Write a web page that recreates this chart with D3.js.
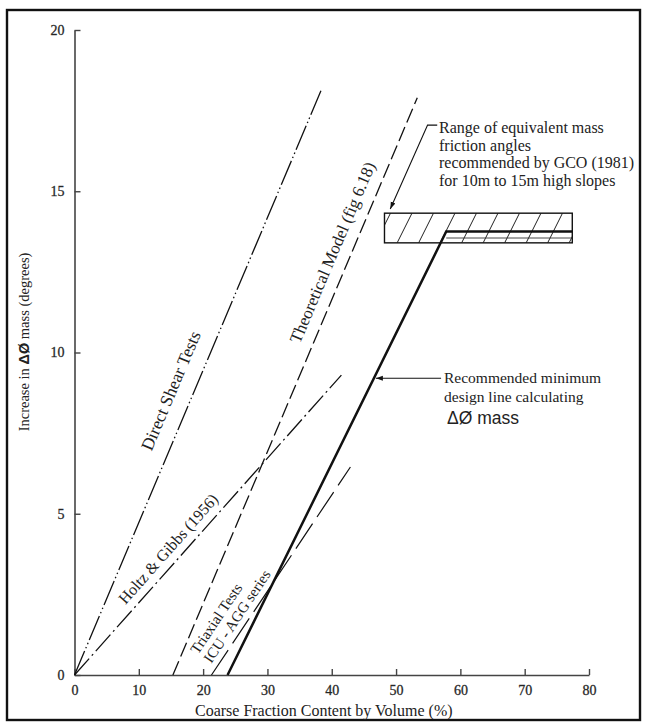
<!DOCTYPE html>
<html><head><meta charset="utf-8">
<script src="https://cdn.jsdelivr.net/npm/d3@7"></script>
<style>
html,body{margin:0;padding:0;background:#fff;}
svg{display:block;}
text{font-family:"Liberation Serif","Times New Roman",serif;fill:#222;}
</style></head>
<body>
<svg id="chart" width="647" height="727"></svg>
<script>
// ---- data ----
const xTickValues = [0, 10, 20, 30, 40, 50, 60, 70, 80];
const yTickValues = [0, 5, 10, 15, 20];
const directShear = [[0, 0], [38.5, 18.2]];
const theoreticalModel = [[15.3, 0], [53.3, 17.9]];
const holtzGibbs = [[0, 0], [41.5, 9.3]];
const triaxialICU = [[21.3, 0], [42.9, 6.45]];
const recommendedLine = [[23.8, 0], [57.8, 13.75], [77.4, 13.75]];
const gcoRangeX = [48.2, 77.4];
const gcoRangeY = [13.4, 14.32];
const xTitle = "Coarse Fraction Content by Volume (%)";
const yTitleParts = ["Increase in ", "ΔØ", " mass (degrees)"];
const gcoNote = ["Range of equivalent mass", "friction angles", "recommended by GCO (1981)", "for 10m to 15m high slopes"];
const recNote = ["Recommended minimum", "design line calculating", "ΔØ mass"];
const gcoArrow = [[56.4, 17.05], [54.9, 17.05], [49.1, 14.45]];
const recArrowY = 9.2, recArrowFromX = 57.0;

// ---- layout ----
const svg = d3.select("#chart");
const x = d3.scaleLinear().domain([0, 80]).range([74.5, 589]);
const y = d3.scaleLinear().domain([0, 20]).range([675, 30]);

svg.append("rect").attr("x", 7).attr("y", 10).attr("width", 633).attr("height", 710)
  .attr("fill", "none").attr("stroke", "#111").attr("stroke-width", 2.4);

svg.append("defs").append("marker").attr("id", "arr").attr("viewBox", "0 0 10 10")
  .attr("refX", 10).attr("refY", 5).attr("markerWidth", 7).attr("markerHeight", 7)
  .attr("orient", "auto").attr("markerUnits", "userSpaceOnUse")
  .append("path").attr("d", "M0,1.5 L10,5 L0,8.5 Z").attr("fill", "#111");

const xAxis = svg.append("g").attr("transform", `translate(0,${y(0)})`)
  .call(d3.axisBottom(x).tickValues(xTickValues).tickSizeInner(-6).tickSizeOuter(0).tickPadding(10));
const yAxis = svg.append("g").attr("transform", `translate(${x(0)},0)`)
  .call(d3.axisLeft(y).tickValues(yTickValues).tickSizeInner(-6).tickSizeOuter(0).tickPadding(10));
[xAxis, yAxis].forEach(a => {
  a.select(".domain").attr("stroke", "#444").attr("stroke-width", 1.6);
  a.selectAll(".tick line").attr("stroke", "#444").attr("stroke-width", 1.4);
  a.selectAll(".tick text").attr("font-family", "Liberation Serif").attr("font-size", 14)
    .attr("fill", "#333").attr("stroke", "#333").attr("stroke-width", 0.3);
});

// titles
svg.append("text").attr("x", (x(0) + x(80)) / 2 - 8).attr("y", 716).attr("text-anchor", "middle")
  .attr("font-size", 16).text(xTitle);
const yt = svg.append("text").attr("transform", `translate(29,342) rotate(-90)`)
  .attr("text-anchor", "middle").attr("font-size", 14.5);
yTitleParts.forEach((p, i) => {
  const ts = yt.append("tspan").text(p);
  if (i === 1) ts.attr("font-family", "Liberation Sans").attr("font-weight", "bold");
});

// hatched GCO box
const bx0 = x(gcoRangeX[0]), bx1 = x(gcoRangeX[1]), by0 = y(gcoRangeY[1]), by1 = y(gcoRangeY[0]);
svg.append("clipPath").attr("id", "boxclip").append("rect")
  .attr("x", bx0).attr("y", by0).attr("width", bx1 - bx0).attr("height", by1 - by0);
const hatchG = svg.append("g").attr("clip-path", "url(#boxclip)");
const hh = by1 - by0;
hatchG.selectAll("line").data(d3.range(bx0 + 6, bx1 + hh, 21.5)).join("line")
  .attr("x1", d => d - hh * 0.5).attr("y1", by1).attr("x2", d => d).attr("y2", by0)
  .attr("stroke", "#222").attr("stroke-width", 1);
svg.append("rect").attr("x", bx0).attr("y", by0).attr("width", bx1 - bx0).attr("height", by1 - by0)
  .attr("fill", "none").attr("stroke", "#111").attr("stroke-width", 1.4);
svg.append("line").attr("x1", x(recommendedLine[1][0])).attr("x2", bx1)
  .attr("y1", y(13.55)).attr("y2", y(13.55)).attr("stroke", "#333").attr("stroke-width", 0.9);

// series lines
const line = d3.line().x(d => x(d[0])).y(d => y(d[1]));
const series = [
  {d: directShear, dash: "26,3,1.5,3,1.5,3", w: 1.3},
  {d: theoreticalModel, dash: "15,5", w: 1.3},
  {d: holtzGibbs, dash: "22,4,2,4", w: 1.3},
  {d: triaxialICU, dash: "30,8", w: 1.2},
  {d: recommendedLine, dash: null, w: 2.5}
];
svg.selectAll("path.series").data(series).join("path").attr("class", "series")
  .attr("d", s => line(s.d)).attr("fill", "none").attr("stroke", "#111")
  .attr("stroke-width", s => s.w).attr("stroke-dasharray", s => s.dash);

// rotated labels along lines
function along(seg, t, off, text, size) {
  const p0 = [x(seg[0][0]), y(seg[0][1])], p1 = [x(seg[1][0]), y(seg[1][1])];
  const ang = Math.atan2(p1[1] - p0[1], p1[0] - p0[0]);
  const px = p0[0] + (p1[0] - p0[0]) * t, py = p0[1] + (p1[1] - p0[1]) * t;
  const nx = Math.sin(ang), ny = -Math.cos(ang);
  const cx = px + nx * off, cy = py + ny * off;
  svg.append("text").attr("transform", `translate(${cx},${cy}) rotate(${ang * 180 / Math.PI})`)
    .attr("text-anchor", "middle").attr("dy", "0.35em").attr("font-size", size).text(text);
}
along(directShear, 0.47, 22, "Direct Shear Tests", 17.5);
along(theoreticalModel, 0.72, 18, "Theoretical Model (fig 6.18)", 17);
along(holtzGibbs, 0.39, 14, "Holtz & Gibbs (1956)", 16);

// triaxial label block
{
  const seg = triaxialICU;
  const p0 = [x(seg[0][0]), y(seg[0][1])], p1 = [x(seg[1][0]), y(seg[1][1])];
  const ang = Math.atan2(p1[1] - p0[1], p1[0] - p0[0]) * 180 / Math.PI;
  const g = svg.append("text").attr("transform", `translate(198,655) rotate(${ang})`).attr("font-size", 15);
  g.append("tspan").attr("x", 0).attr("y", 0).text("Triaxial Tests");
  g.append("tspan").attr("x", 0).attr("y", 16).text("ICU - AGG series");
}

// GCO note
svg.append("path").attr("d", d3.line()(gcoArrow.map(d => [x(d[0]), y(d[1])])))
  .attr("fill", "none").attr("stroke", "#111").attr("stroke-width", 1.1).attr("marker-end", "url(#arr)");
svg.append("text").attr("font-size", 16).selectAll("tspan").data(gcoNote).join("tspan")
  .attr("x", 439).attr("y", (d, i) => 133 + i * 17.5).text(d => d);

// recommended note
{
  const a = recommendedLine[0], b = recommendedLine[1];
  const tipX = a[0] + (recArrowY - a[1]) * (b[0] - a[0]) / (b[1] - a[1]);
  svg.append("line").attr("x1", x(recArrowFromX)).attr("y1", y(recArrowY)).attr("x2", x(tipX) + 2).attr("y2", y(recArrowY))
    .attr("stroke", "#111").attr("stroke-width", 1.1).attr("marker-end", "url(#arr)");
  const t = svg.append("text").attr("font-size", 15.5);
  recNote.forEach((s, i) => {
    const ts = t.append("tspan").attr("x", i === 2 ? 447 : 444).attr("y", y(recArrowY) + 5 + i * 19 + (i === 2 ? 3 : 0)).text(s);
    if (i === 2) ts.attr("font-family", "Liberation Sans").attr("font-size", 17.5);
  });
}
</script>
</body></html>
